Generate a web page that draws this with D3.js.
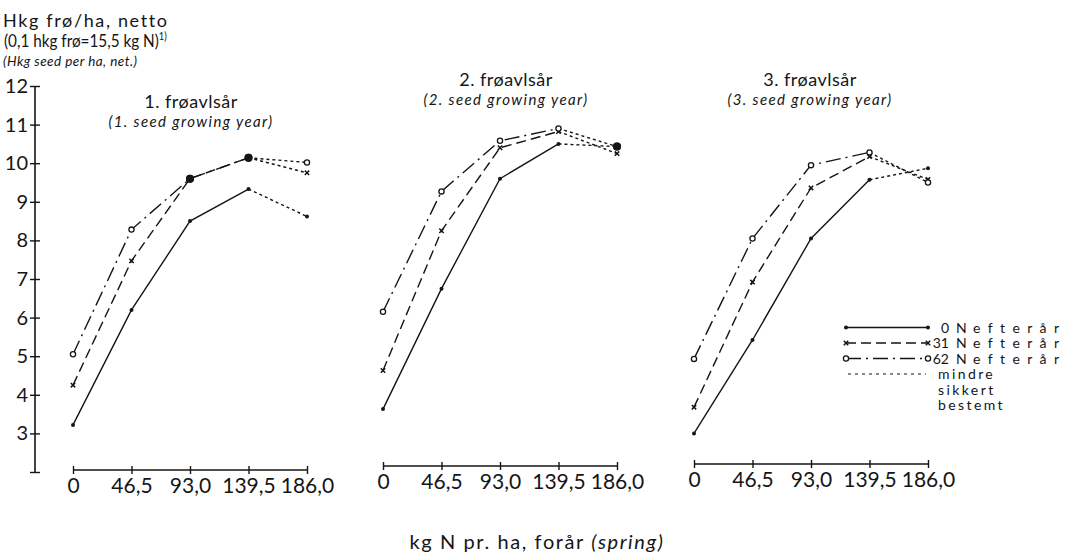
<!DOCTYPE html>
<html>
<head>
<meta charset="utf-8">
<script src="https://cdn.jsdelivr.net/npm/d3@7"></script>
<style>
  html, body { margin: 0; padding: 0; background: #fff; }
  svg { display: block; font-family: Lato, "Open Sans", sans-serif; font-variant-ligatures: none; }
</style>
</head>
<body>
<svg id="chart" width="1068" height="558"></svg>
<script>
// --- data ---
const xValues = [0, 46.5, 93, 139.5, 186];
const xLabels = ["0", "46,5", "93,0", "139,5", "186,0"];
const yTicks = [3, 4, 5, 6, 7, 8, 9, 10, 11, 12];
const panelTitles = ["1. frøavlsår", "2. frøavlsår", "3. frøavlsår"];
const panelSubtitles = ["(1. seed growing year)", "(2. seed growing year)", "(3. seed growing year)"];
const seriesNames = ["0", "31", "62"];
const noteWords = ["mindre", "sikkert", "bestemt"];

// hkg seed per ha, one array per autumn N level
const year1N0 = [3.22, 6.2, 8.5, 9.33, 8.62];
const year1N31 = [4.25, 7.47, 9.6, 10.14, 9.75];
const year1N62 = [5.05, 8.28, 9.6, 10.14, 10.02];

const year2N0 = [3.63, 6.75, 9.6, 10.5, 10.43];
const year2N31 = [4.63, 8.25, 10.4, 10.82, 10.25];
const year2N62 = [6.15, 9.27, 10.58, 10.9, 10.43];

const year3N0 = [3.0, 5.42, 8.05, 9.57, 9.87];
const year3N31 = [3.68, 6.92, 9.36, 10.17, 9.58];
const year3N62 = [4.93, 8.05, 9.95, 10.28, 9.5];

// segments beyond this spring-N level are "mindre sikkert bestemt"
const uncertainFrom = 139.5;

const panels = [
    [year1N0, year1N31, year1N62],
    [year2N0, year2N31, year2N62],
    [year3N0, year3N31, year3N62]
];

// --- layout ---
const ink = "#151515";
const svg = d3.select("#chart");
const y = d3.scaleLinear().domain([2, 12]).range([472, 86]);
const panelLeft = [73, 383, 694];
const panelWidth = 234;
const axisY = [470, 466, 464];
const titlePos = [[191, 108, 127], [506, 86, 105], [810, 86, 105]];
const dashes = [null, "10,5", "15,5,2,5"];

// header text
const head = svg.append("g").attr("fill", ink);
head.append("text").attr("x", 3).attr("y", 27).style("font-size", "18px")
    .attr("textLength", 164).attr("lengthAdjust", "spacing").text("Hkg frø/ha, netto");
// second line is set narrower in the original, squeeze it horizontally
const l2 = head.append("text").attr("transform", "translate(4,47) scale(0.85,1)").style("font-size", "18px");
l2.append("tspan").text("(0,1 hkg frø=15,5 kg N)");
l2.append("tspan").attr("dy", -7).style("font-size", "11px").text("1)");
head.append("text").attr("x", 3).attr("y", 66).style("font-size", "13.5px")
    .style("font-style", "italic").attr("textLength", 134).attr("lengthAdjust", "spacing")
    .text("(Hkg seed per ha, net.)");

// y axis (only on first panel)
const yAxis = svg.append("g").attr("transform", "translate(35,0)")
    .call(d3.axisLeft(y).tickValues([2].concat(yTicks)).tickSize(5)
        .tickFormat(d => d === 2 ? "" : d));
yAxis.select(".domain").attr("stroke", ink).attr("stroke-width", 1.6).attr("d", `M0,${y(2)}V${y(12)}`);
yAxis.selectAll(".tick line").attr("x1", -5).attr("x2", 5).attr("stroke", ink).attr("stroke-width", 1.4);
yAxis.selectAll(".tick text").attr("x", -7).attr("fill", ink)
    .style("font-size", "20px").style("font-family", "Lato, sans-serif");

function marker(g, type, cx, cy) {
    if (type === 0) {
        g.append("circle").attr("cx", cx).attr("cy", cy).attr("r", 2).attr("fill", ink);
    } else if (type === 1) {
        g.append("path").attr("d", `M${cx - 2.2},${cy - 2.2}L${cx + 2.2},${cy + 2.2}M${cx - 2.2},${cy + 2.2}L${cx + 2.2},${cy - 2.2}`)
            .attr("stroke", ink).attr("stroke-width", 1.5);
    } else {
        g.append("circle").attr("cx", cx).attr("cy", cy).attr("r", 2.6)
            .attr("fill", "#fff").attr("stroke", ink).attr("stroke-width", 1.3);
    }
}

panels.forEach((series, p) => {
    const x = d3.scaleLinear().domain([0, 186]).range([panelLeft[p], panelLeft[p] + panelWidth]);
    const g = svg.append("g");

    // x axis
    const xa = g.append("g").attr("transform", `translate(0,${axisY[p]})`)
        .call(d3.axisBottom(x).tickValues(xValues).tickSize(4).tickFormat((d, i) => xLabels[i]));
    xa.select(".domain").attr("stroke", ink).attr("stroke-width", 1.6).attr("d", `M${x(0)},0H${x(186)}`);
    xa.selectAll(".tick line").attr("y1", -4).attr("y2", 4).attr("stroke", ink).attr("stroke-width", 1.4);
    xa.selectAll(".tick text").attr("y", 8).attr("fill", ink)
        .style("font-size", "21px").style("font-family", "Lato, sans-serif");

    // titles
    g.append("text").attr("x", titlePos[p][0]).attr("y", titlePos[p][1]).attr("text-anchor", "middle")
        .attr("fill", ink).style("font-size", "18px").style("letter-spacing", "0.5px").text(panelTitles[p]);
    g.append("text").attr("x", titlePos[p][0]).attr("y", titlePos[p][2]).attr("text-anchor", "middle")
        .attr("fill", ink).style("font-size", "15px").style("font-style", "italic")
        .style("letter-spacing", "1.4px").text(panelSubtitles[p]);

    const line = d3.line().x(d => x(d[0])).y(d => y(d[1]));

    series.forEach((vals, s) => {
        const pts = xValues.map((v, i) => [v, vals[i]]);
        const sure = pts.filter(d => d[0] <= uncertainFrom);
        const unsure = pts.filter(d => d[0] >= uncertainFrom);
        g.append("path").attr("d", line(sure)).attr("fill", "none").attr("stroke", ink)
            .attr("stroke-width", 1.4).attr("stroke-dasharray", dashes[s]);
        g.append("path").attr("d", line(unsure)).attr("fill", "none").attr("stroke", ink)
            .attr("stroke-width", 1.4).attr("stroke-dasharray", "3,3");
    });

    // markers; where two series meet the point is drawn as a big dot
    xValues.forEach((v, i) => {
        series.forEach((vals, s) => {
            const shared = series.some((o, k) => k !== s && o[i] === vals[i]);
            if (shared) {
                g.append("circle").attr("cx", x(v)).attr("cy", y(vals[i])).attr("r", 4).attr("fill", ink);
            } else {
                marker(g, s, x(v), y(vals[i]));
            }
        });
    });
});

// x axis title
const xt = svg.append("text").attr("x", 537).attr("y", 549).attr("text-anchor", "middle")
    .attr("fill", ink).style("font-size", "20px").style("letter-spacing", "1.6px");
xt.append("tspan").text("kg N pr. ha, forår ");
xt.append("tspan").style("font-style", "italic").text("(spring)");

// legend
const legend = svg.append("g");
const rowGap = 15.5;
const row0 = 327.5;
seriesNames.forEach((name, s) => {
    const ly = row0 + s * rowGap;
    legend.append("line").attr("x1", 846).attr("x2", 928).attr("y1", ly).attr("y2", ly)
        .attr("stroke", ink).attr("stroke-width", 1.4).attr("stroke-dasharray", dashes[s]);
    marker(legend, s, 846, ly);
    marker(legend, s, 928, ly);
    const t = legend.append("g").attr("fill", ink).style("font-size", "14px");
    t.append("text").attr("x", 949).attr("y", ly + 5).attr("text-anchor", "end").text(name);
    t.append("text").attr("x", 956).attr("y", ly + 5).text("N");
    t.append("text").attr("x", 973).attr("y", ly + 5)
        .attr("textLength", 86).attr("lengthAdjust", "spacing").text("efterår");
});
legend.append("line").attr("x1", 848).attr("x2", 926).attr("y1", row0 + 3 * rowGap).attr("y2", row0 + 3 * rowGap)
    .attr("stroke", ink).attr("stroke-width", 1.2).attr("stroke-dasharray", "3,4");
noteWords.forEach((w, i) => {
    legend.append("text").attr("x", 938).attr("y", row0 + 5 + (3 + i) * rowGap).attr("fill", ink)
        .style("font-size", "14px").style("letter-spacing", "2.4px").text(w);
});
</script>
</body>
</html>
